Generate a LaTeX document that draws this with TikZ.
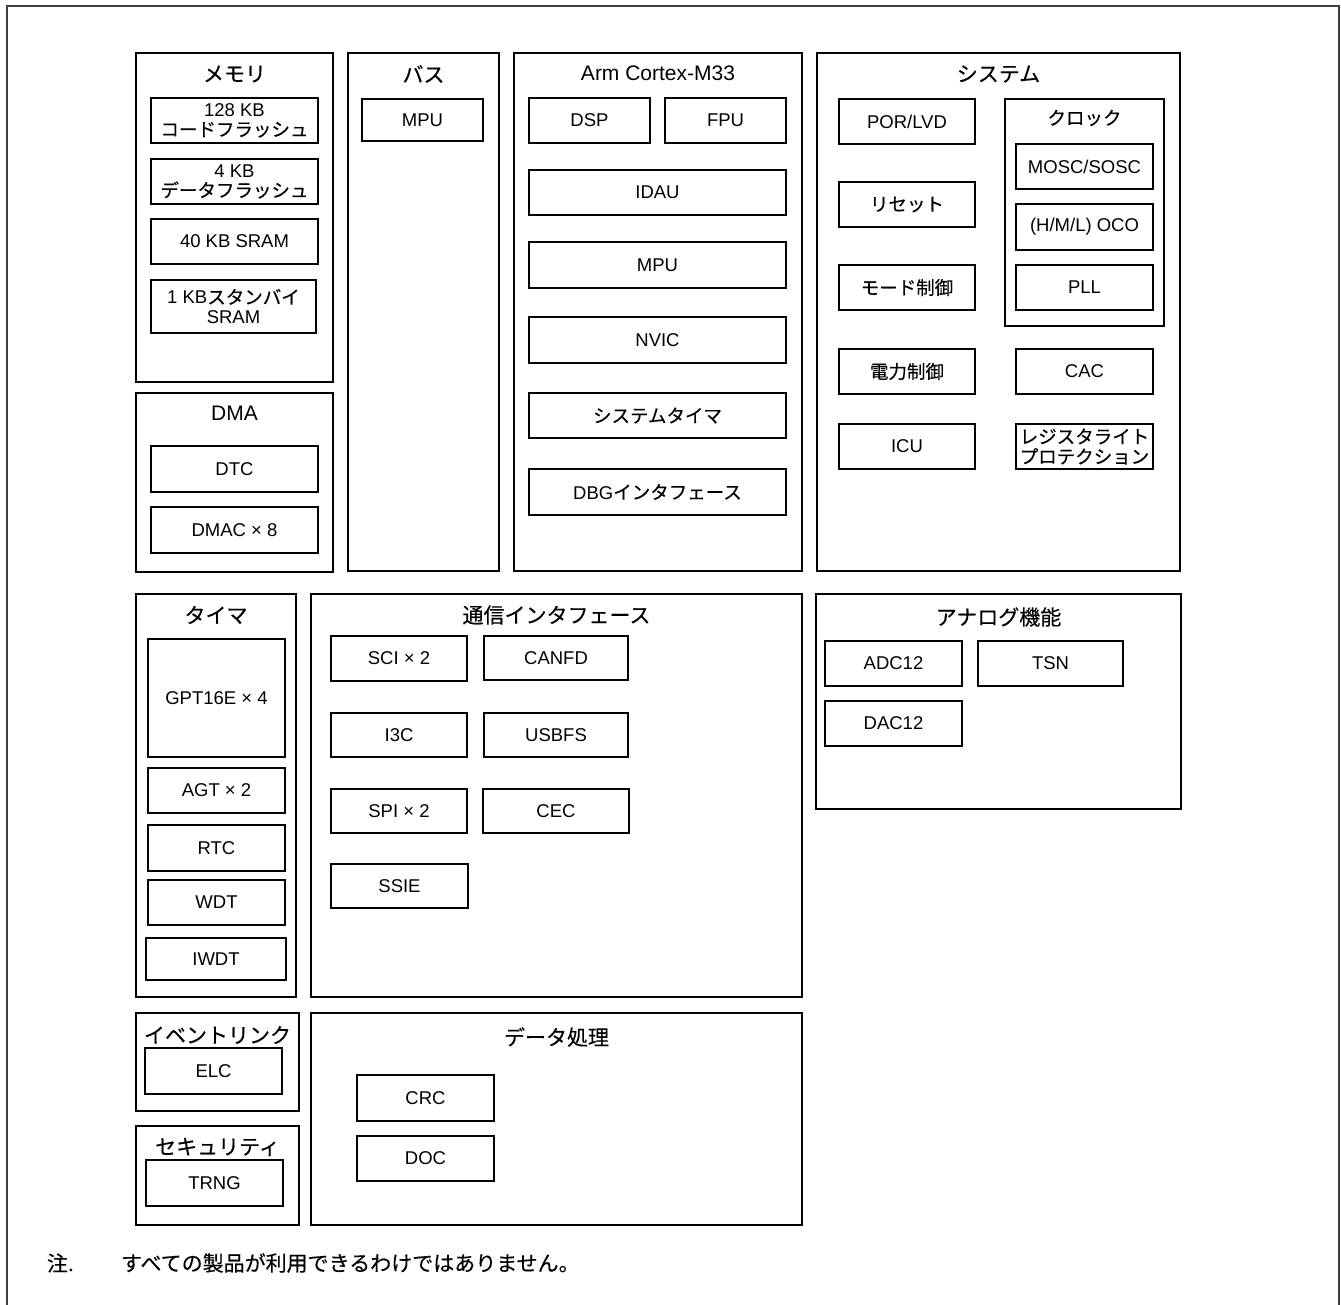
\documentclass[tikz,border=0pt]{standalone}
\usepackage{fontspec}
\setmainfont{Liberation Sans}
\newfontfamily\cjk[FakeBold=0.3]{Noto Sans CJK JP}
\newcommand\J[1]{{\cjk #1}}
\newcommand\fsz[2]{\fontsize{#1pt}{#2pt}\selectfont}
\tikzset{
  box/.style={draw=black, line width=2pt, inner sep=0pt, outer sep=0pt, align=center, font=\fsz{18.5}{20}},
  ttl/.style={inner sep=0pt, outer sep=0pt, font=\fsz{21}{24}},
  sttl/.style={inner sep=0pt, outer sep=0pt, font=\fsz{18.5}{20}},
  note/.style={inner sep=0pt, outer sep=0pt, anchor=west, font=\fsz{21}{24}},
  frame/.style={line width=1.5pt, draw=black!75},
}
% \bx{name}{x1}{y1}{x2}{y2}{text}
\newcommand\bx[6]{\node[box, minimum width={#4pt-#2pt}, minimum height={#5pt-#3pt}] (#1) at ({(#2+#4)/2},{(#3+#5)/2}) {#6};}
\begin{document}
\begin{tikzpicture}[x=1pt,y=-1pt]
\useasboundingbox (0,0) rectangle (1341,1304);
\draw[frame] (7,1330) -- (7,6) -- (1339,6) -- (1339,1330);

% Memory
\bx{mem}{136}{53}{333}{382}{}
\node[ttl] (memT) at (234.5,74) {\J{メモリ}};
\bx{m128}{151}{98}{318}{143}{128 KB\\\J{コードフラッシュ}}
\bx{m4}{151}{159}{318}{204}{4 KB\\\J{データフラッシュ}}
\bx{m40}{151}{219}{318}{264}{40 KB SRAM}
\bx{m1}{151}{280}{316}{333}{1 KB\J{スタンバイ}\\SRAM}

% DMA
\bx{dma}{136}{393}{333}{572}{}
\node[ttl] (dmaT) at (234.5,413) {DMA};
\bx{dtc}{151}{446}{318}{492}{DTC}
\bx{dmac}{151}{507}{318}{553}{DMAC × 8}

% Bus
\bx{bus}{348}{53}{499}{571}{}
\node[ttl] (busT) at (423.5,74) {\J{バス}};
\bx{bmpu}{362}{99}{483}{141}{MPU}

% Arm
\bx{arm}{514}{53}{802}{571}{}
\node[ttl] (armT) at (658,73) {Arm Cortex-M33};
\bx{dsp}{529}{98}{650}{143}{DSP}
\bx{fpu}{665}{98}{786}{143}{FPU}
\bx{idau}{529}{170}{786}{215}{IDAU}
\bx{ampu}{529}{242}{786}{288}{MPU}
\bx{nvic}{529}{317}{786}{363}{NVIC}
\bx{stim}{529}{393}{786}{438}{\J{システムタイマ}}
\bx{dbg}{529}{469}{786}{515}{DBG\J{インタフェース}}

% System
\bx{sys}{817}{53}{1180}{571}{}
\node[ttl] (sysT) at (998.5,74) {\J{システム}};
\bx{por}{839}{99}{975}{144}{POR/LVD}
\bx{rst}{839}{182}{975}{227}{\J{リセット}}
\bx{mode}{839}{265}{975}{310}{\J{モード制御}}
\bx{pwr}{839}{349}{975}{394}{\J{電力制御}}
\bx{icu}{839}{424}{975}{469}{ICU}
\bx{clk}{1005}{99}{1164}{326}{}
\node[sttl] (clkT) at (1084.5,118) {\J{クロック}};
\bx{mosc}{1016}{144}{1153}{189}{MOSC/SOSC}
\bx{oco}{1016}{204}{1153}{250}{(H/M/L) OCO}
\bx{pll}{1016}{265}{1153}{310}{PLL}
\bx{cac}{1016}{349}{1153}{394}{CAC}
\bx{rwp}{1016}{424}{1153}{469}{\J{レジスタライト}\\\J{プロテクション}}

% Timer
\bx{tmr}{136}{594}{296}{997}{}
\node[ttl] (tmrT) at (216,615) {\J{タイマ}};
\bx{gpt}{148}{639}{285}{757}{GPT16E × 4}
\bx{agt}{148}{768}{285}{813}{AGT × 2}
\bx{rtc}{148}{825}{285}{871}{RTC}
\bx{wdt}{148}{880}{285}{925}{WDT}
\bx{iwdt}{146}{938}{286}{980}{IWDT}

% Communication
\bx{com}{311}{594}{802}{997}{}
\node[ttl] (comT) at (556.5,615) {\J{通信インタフェース}};
\bx{sci}{331}{636}{467}{681}{SCI × 2}
\bx{canfd}{484}{636}{628}{680}{CANFD}
\bx{i3c}{331}{713}{467}{757}{I3C}
\bx{usb}{484}{713}{628}{757}{USBFS}
\bx{spi}{331}{789}{467}{833}{SPI × 2}
\bx{cec}{483}{789}{629}{833}{CEC}
\bx{ssie}{331}{864}{468}{908}{SSIE}

% Analog
\bx{ana}{816}{594}{1181}{809}{}
\node[ttl] (anaT) at (998.5,617) {\J{アナログ機能}};
\bx{adc}{825}{641}{962}{686}{ADC12}
\bx{tsn}{978}{641}{1123}{686}{TSN}
\bx{dac}{825}{701}{962}{746}{DAC12}

% Event link
\bx{evt}{136}{1013}{299}{1111}{}
\node[ttl] (evtT) at (217.5,1035) {\J{イベントリンク}};
\bx{elc}{145}{1048}{282}{1094}{ELC}

% Security
\bx{sec}{136}{1126}{299}{1225}{}
\node[ttl] (secT) at (217.5,1147) {\J{セキュリティ}};
\bx{trng}{146}{1160}{283}{1206}{TRNG}

% Data processing
\bx{dat}{311}{1013}{802}{1225}{}
\node[ttl] (datT) at (556.5,1037) {\J{データ処理}};
\bx{crc}{357}{1075}{494}{1121}{CRC}
\bx{doc}{357}{1136}{494}{1181}{DOC}

% Footnote
\node[note] (noteA) at (47,1263) {\J{注.}};
\node[note] (noteB) at (121,1263) {\J{すべての製品が利用できるわけではありません。}};
\end{tikzpicture}
\end{document}
